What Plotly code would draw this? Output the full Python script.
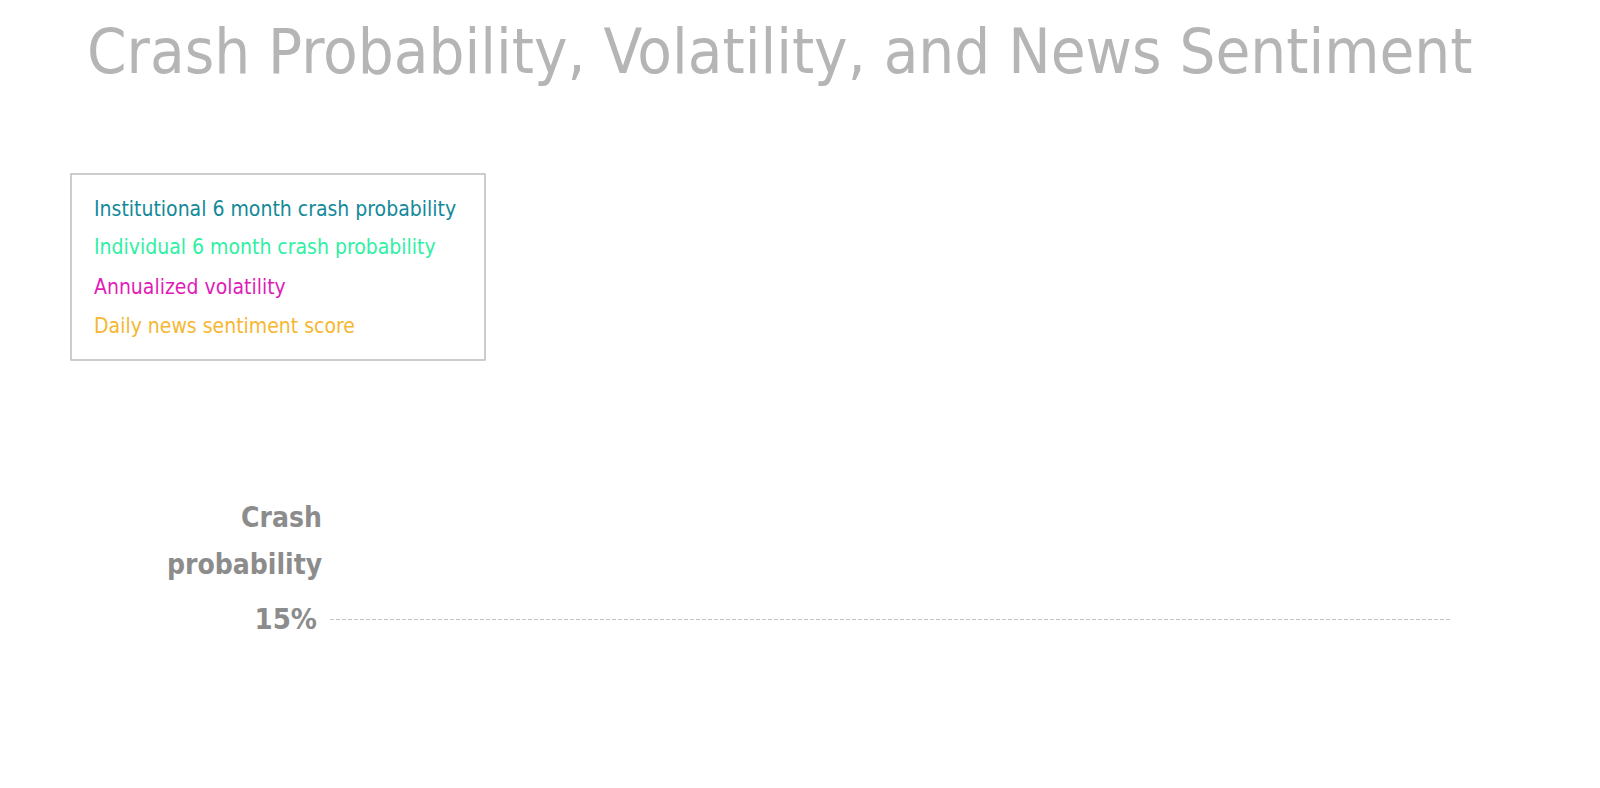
import plotly.graph_objects as go

# ---- data (the reference frame shows no plotted points yet) ----
series_names = [
    "Institutional 6 month crash probability",
    "Individual 6 month crash probability",
    "Annualized volatility",
    "Daily news sentiment score",
]
series_colors = ["#13899a", "#2ff0a4", "#e01cb8", "#f6b731"]
dates = []
institutional_prob = []
individual_prob = []
annualized_vol = []
news_sentiment = []
series_values = [institutional_prob, individual_prob, annualized_vol, news_sentiment]

y_tick_vals = [0.15]
y_tick_text = ["15%"]

TITLE = "Crash Probability, Volatility, and News Sentiment"
Y_LABEL_LINES = ["Crash", "probability"]

FONT = "DejaVu Sans Condensed, Roboto Condensed, Arial Narrow, sans-serif"
GREY = "#8c8c8c"

W, H = 1600, 788
ML, MR, MT, MB = 322, 156, 580, 84
PW, PH = W - ML - MR, H - MT - MB


def px(xp):
    return (xp - ML) / PW


def py(yp):
    return (H - MB - yp) / PH


fig = go.Figure()
for name, color, vals in zip(series_names, series_colors, series_values):
    fig.add_trace(go.Scatter(x=dates, y=vals, mode="lines", name=name,
                             line=dict(color=color, width=2.5), showlegend=False))

fig.update_layout(
    width=W, height=H,
    paper_bgcolor="white", plot_bgcolor="white",
    margin=dict(l=ML, r=MR, t=MT, b=MB),
    font=dict(family=FONT, color=GREY),
    title=dict(text=TITLE, x=0.0494, xanchor="left", y=0.973, yanchor="top",
               font=dict(family=FONT, size=63, color="#b5b5b5")),
    xaxis=dict(visible=False, range=[0, 1]),
    yaxis=dict(range=[0, 0.2], tickvals=y_tick_vals, ticktext=y_tick_text,
               showgrid=True, gridcolor="#c4c4c4", griddash="4px,2px", gridwidth=1,
               zeroline=False, showline=False, ticks="",
               tickfont=dict(family=FONT, size=29, color=GREY, weight="bold"),
               ticklabelstandoff=12),
)

# y-axis label (two lines)
for line, ly in zip(Y_LABEL_LINES, [509, 556]):
    fig.add_annotation(text=line, xref="paper", yref="paper", x=px(316), y=py(ly),
                       xanchor="right", yanchor="middle", align="right", showarrow=False,
                       font=dict(family=FONT, size=28, color=GREY, weight="bold"))

# legend box
fig.add_shape(type="rect", xref="paper", yref="paper",
              x0=px(63), x1=px(477), y0=py(352), y1=py(166),
              line=dict(color="#bdbdbd", width=1.5), fillcolor="rgba(0,0,0,0)")
legend_y = [201, 239, 279, 318]
for name, color, ly in zip(series_names, series_colors, legend_y):
    fig.add_annotation(text=name, xref="paper", yref="paper",
                       x=px(84), y=py(ly),
                       xanchor="left", yanchor="middle", showarrow=False,
                       font=dict(family=FONT, size=21, color=color))

fig.write_html("out.html")
